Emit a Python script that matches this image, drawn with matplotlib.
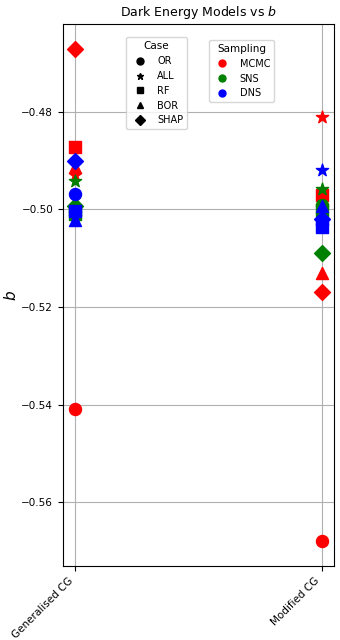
import matplotlib
matplotlib.use("Agg")
import matplotlib.pyplot as plt
from matplotlib.lines import Line2D

models = ["Generalised CG", "Modified CG"]
cases = ["OR", "ALL", "RF", "BOR", "SHAP"]
samplings = ["MCMC", "SNS", "DNS"]

# values of b: [model][case]
mcmc_gcg = [-0.5410, -0.4929, -0.4872, -0.4913, -0.4671]
mcmc_mcg = [-0.5680, -0.4810, -0.4970, -0.5130, -0.5170]
sns_gcg = [-0.5005, -0.4942, -0.5010, -0.4984, -0.4993]
sns_mcg = [-0.4990, -0.4958, -0.5002, -0.4995, -0.5090]
dns_gcg = [-0.4968, -0.5015, -0.5004, -0.5022, -0.4901]
dns_mcg = [-0.5030, -0.4920, -0.5037, -0.4994, -0.5020]

data = {
    "MCMC": [mcmc_gcg, mcmc_mcg],
    "SNS": [sns_gcg, sns_mcg],
    "DNS": [dns_gcg, dns_mcg],
}
colors = {"MCMC": "red", "SNS": "green", "DNS": "blue"}
markers = {"OR": "o", "ALL": "*", "RF": "s", "BOR": "^", "SHAP": "D"}
sizes = {"OR": 75, "ALL": 85, "RF": 65, "BOR": 75, "SHAP": 65}

fig = plt.figure(figsize=(3.4, 6.4), dpi=100)
ax = fig.add_axes([0.185, 0.116, 0.797, 0.846])

for s in samplings:
    for ci, c in enumerate(cases):
        for mi in range(len(models)):
            ax.scatter(mi, data[s][mi][ci], color=colors[s], marker=markers[c],
                       s=sizes[c], zorder=3)

ax.set_xticks(range(len(models)))
ax.set_xticklabels(models, rotation=45, ha="right", fontsize=7.5)
ax.tick_params(axis="y", labelsize=7.5)
ax.set_yticks([-0.56, -0.54, -0.52, -0.50, -0.48])
ax.set_ylabel("$b$", fontsize=11, labelpad=2)
ax.set_title("Dark Energy Models vs $b$", fontsize=9)
ax.grid(True, color="#b0b0b0", linewidth=0.8)
ax.set_axisbelow(True)

case_handles = [Line2D([], [], marker=markers[c], color="black", linestyle="None",
                       markersize=5) for c in cases]
samp_handles = [Line2D([], [], marker="o", color=colors[s], linestyle="None",
                       markersize=5) for s in samplings]
leg1 = ax.legend(case_handles, cases, title="Case", fontsize=7, title_fontsize=7.5,
                 loc="upper left", bbox_to_anchor=(0.215, 0.985), borderpad=0.4,
                 handletextpad=0.8, labelspacing=0.5)
ax.add_artist(leg1)
ax.legend(samp_handles, samplings, title="Sampling", fontsize=7, title_fontsize=7.5,
          loc="upper left", bbox_to_anchor=(0.52, 0.98), borderpad=0.4,
          handletextpad=0.8, labelspacing=0.5)

fig.savefig("out.png", dpi=100)
